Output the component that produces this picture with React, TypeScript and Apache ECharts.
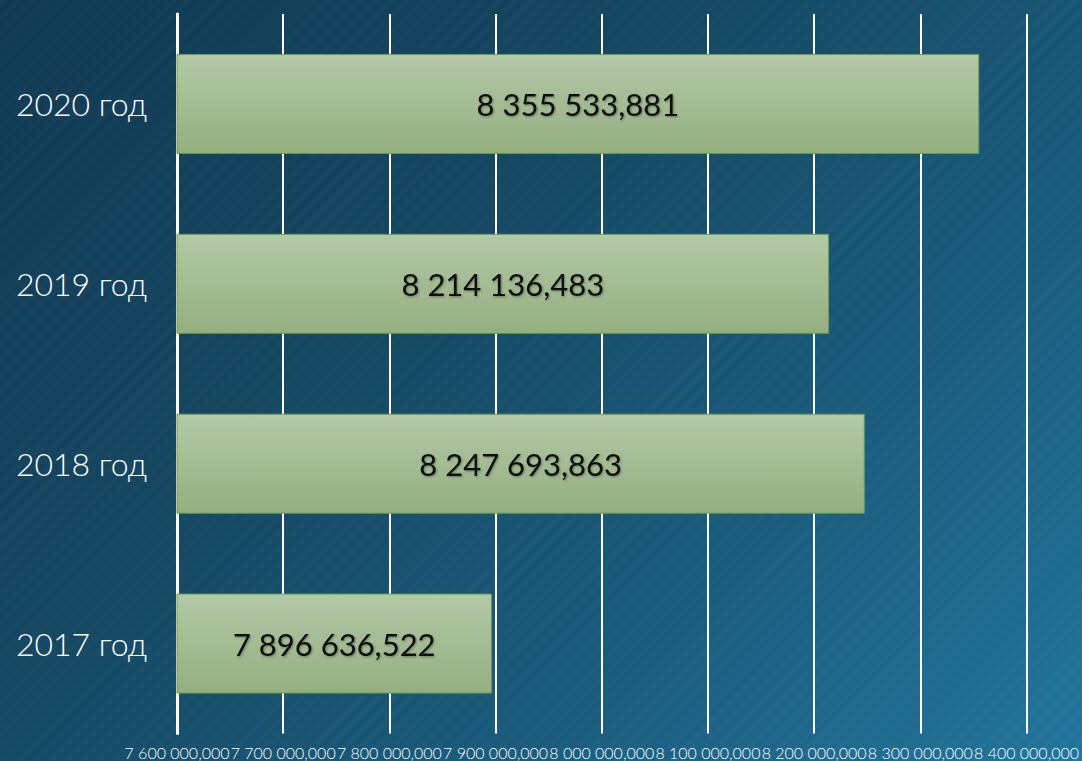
import React, { useEffect, useRef } from "react";
import * as echarts from "echarts";

const categories = ["2017 год", "2018 год", "2019 год", "2020 год"];
const values = [7896636.522, 8247693.863, 8214136.483, 8355533.881];
const axisMin = 7600000;
const axisMax = 8400000;
const axisStep = 100000;

function fmt(v: number, decimals: number): string {
  const fixed = v.toFixed(decimals);
  const [intPart, frac] = fixed.split(".");
  const grouped = intPart.replace(/\B(?=(\d{3})+(?!\d))/g, " ");
  return frac !== undefined ? grouped + "," + frac : grouped;
}

export default function App() {
  const ref = useRef<HTMLDivElement>(null);
  useEffect(() => {
    if (!ref.current) return;
    const chart = echarts.init(ref.current, null, { renderer: "svg" });
    const font = "'Lato', 'Noto Sans', sans-serif";
    chart.setOption({
      animation: false,
      backgroundColor: "transparent",
      grid: { left: 177, right: 55, top: 14, bottom: 27.5, containLabel: false },
      xAxis: {
        type: "value",
        min: axisMin,
        max: axisMax,
        interval: axisStep,
        axisLine: { show: false },
        axisTick: { show: false },
        splitLine: { show: true, lineStyle: { color: "#ffffff", width: 2 } },
        axisLabel: {
          color: "#ffffff",
          fontSize: 16,
          fontWeight: 300,
          fontFamily: font,
          margin: 11,
          formatter: (v: number) => fmt(v, 3),
        },
      },
      yAxis: {
        type: "category",
        data: categories,
        axisLine: { show: true, lineStyle: { color: "#ffffff", width: 3 } },
        axisTick: { show: false },
        splitLine: { show: false },
        axisLabel: {
          color: "#ffffff",
          fontSize: 32,
          fontWeight: 300,
          fontFamily: font,
          margin: 30,
        },
      },
      series: [
        {
          type: "bar",
          data: values,
          barWidth: 100,
          itemStyle: {
            color: new echarts.graphic.LinearGradient(0, 0, 0, 1, [
              { offset: 0, color: "#b3c9a7" },
              { offset: 1, color: "#94af80" },
            ]),
            borderColor: "#6b9a4e",
            borderWidth: 1,
          },
          label: {
            show: true,
            position: "inside",
            color: "#111111",
            fontSize: 31,
            fontFamily: font,
            textShadowColor: "rgba(0,0,0,0.35)",
            textShadowBlur: 2,
            textShadowOffsetX: 1,
            textShadowOffsetY: 1,
            formatter: (p: any) => fmt(p.value, 3),
          },
        },
      ],
    });
    return () => chart.dispose();
  }, []);
  return (
    <div
      style={{
        position: "absolute",
        left: 0,
        top: 0,
        width: 1082,
        height: 761,
        background:
          "linear-gradient(135deg, #123a54 0%, #154761 35%, #1b5d7e 70%, #23769d 100%)",
        overflow: "hidden",
      }}
    >
      <div
        style={{
          position: "absolute",
          inset: 0,
          background:
            "repeating-linear-gradient(135deg, rgba(255,255,255,0.008) 0px, rgba(255,255,255,0.008) 3px, rgba(0,0,0,0.01) 6px, rgba(0,0,0,0) 11px)",
        }}
      />
      <div ref={ref} style={{ position: "absolute", left: 0, top: 0, width: 1082, height: 761 }} />
    </div>
  );
}
